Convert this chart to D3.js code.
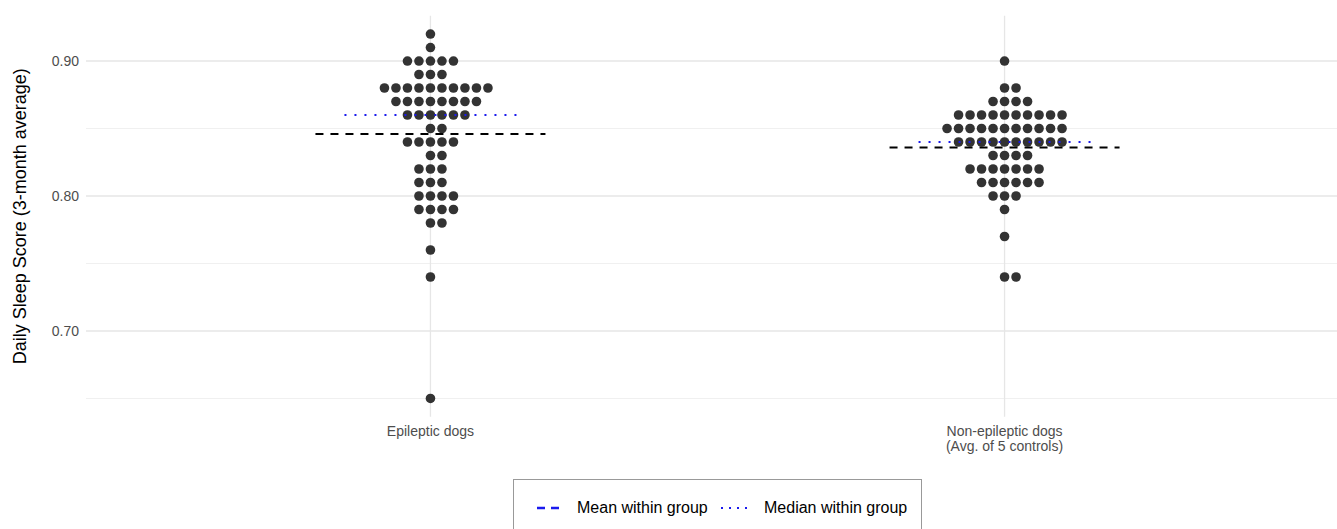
<!DOCTYPE html>
<html lang="en">
<head>
  <meta charset="UTF-8">
  <title>Daily sleep score dot plot</title>
  <script src="https://d3js.org/d3.v7.min.js"></script>
  <style>
    * { margin: 0; padding: 0; box-sizing: border-box; }
    body { background: #fff; font-family: "Liberation Sans", Arial, sans-serif; }
  </style>
</head>
<body>
  <div id="chart"></div>
  <script>
    // groups on the x axis
    const groups = ["Epileptic dogs", "Non-epileptic dogs\n(Avg. of 5 controls)"];

    // binned scores and how many dogs sit in each bin
    const epilepticBins   = [0.92, 0.91, 0.90, 0.89, 0.88, 0.87, 0.86, 0.85, 0.84, 0.83, 0.82, 0.81, 0.80, 0.79, 0.78, 0.76, 0.74, 0.65];
    const epilepticCounts = [1,    1,    5,    3,    10,   8,    6,    2,    5,    2,    3,    3,    4,    4,    2,    1,    1,    1];
    const controlBins     = [0.90, 0.88, 0.87, 0.86, 0.85, 0.84, 0.83, 0.82, 0.81, 0.80, 0.79, 0.77, 0.74];
    const controlCounts   = [1,    2,    4,    10,   11,   10,   4,    7,    6,    3,    1,    1,    2];

    const groupMeans   = [0.846, 0.836];
    const groupMedians = [0.86, 0.84];

    const yTicks = [0.70, 0.80, 0.90];
    const yMinor = [0.65, 0.75, 0.85];

    const W = 1337, H = 529;
    const svg = d3.select("#chart").append("svg")
      .attr("width", W).attr("height", H);

    const x = d3.scaleLinear().domain([0.4, 2.6]).range([86, 1349]);
    const y = d3.scaleLinear().domain([0.6365, 0.9335]).range([416.7, 15.8]);

    // grid
    const grid = svg.append("g");
    grid.selectAll(".minor").data(yMinor).enter().append("line")
      .attr("x1", x(0.4)).attr("x2", x(2.6))
      .attr("y1", d => y(d)).attr("y2", d => y(d))
      .attr("stroke", "#f0f0f0").attr("stroke-width", 1);
    grid.selectAll(".major").data(yTicks).enter().append("line")
      .attr("x1", x(0.4)).attr("x2", x(2.6))
      .attr("y1", d => y(d)).attr("y2", d => y(d))
      .attr("stroke", "#e6e6e6").attr("stroke-width", 1.3);
    grid.selectAll(".vert").data([1, 2]).enter().append("line")
      .attr("x1", d => x(d)).attr("x2", d => x(d))
      .attr("y1", y.range()[1]).attr("y2", y.range()[0])
      .attr("stroke", "#e6e6e6").attr("stroke-width", 1.3);

    // y axis labels
    const yAxis = svg.append("g")
      .attr("transform", `translate(${x(0.4)},0)`)
      .call(d3.axisLeft(y).tickValues(yTicks).tickSize(0).tickPadding(7).tickFormat(d3.format(".2f")));
    yAxis.select(".domain").remove();
    yAxis.selectAll("text")
      .style("font-family", "Liberation Sans, Arial, sans-serif")
      .style("font-size", "14px").attr("fill", "#4d4d4d");

    svg.append("text")
      .attr("transform", `translate(26,${(y.range()[0] + y.range()[1]) / 2}) rotate(-90)`)
      .attr("text-anchor", "middle")
      .style("font-size", "18px").attr("fill", "#000")
      .text("Daily Sleep Score (3-month average)");

    // x labels
    groups.forEach((g, i) => {
      const t = svg.append("text")
        .attr("x", x(i + 1)).attr("y", 436)
        .attr("text-anchor", "middle")
        .style("font-size", "14px").attr("fill", "#4d4d4d");
      g.split("\n").forEach((line, j) => {
        t.append("tspan").attr("x", x(i + 1)).attr("dy", j === 0 ? 0 : 15).text(line);
      });
    });

    // dots
    const step = 11.5;
    const dots = [];
    [[epilepticBins, epilepticCounts], [controlBins, controlCounts]].forEach(([bins, counts], gi) => {
      bins.forEach((b, k) => {
        const n = counts[k];
        const off = Math.floor((n - 1) / 2);
        for (let i = 0; i < n; i++) dots.push({ g: gi + 1, v: b, dx: (i - off) * step });
      });
    });
    svg.selectAll(".dot").data(dots).enter().append("circle")
      .attr("cx", d => x(d.g) + d.dx)
      .attr("cy", d => y(d.v))
      .attr("r", 4.8)
      .attr("fill", "#333333");

    // mean and median lines
    svg.selectAll(".median").data(groupMedians).enter().append("line")
      .attr("x1", (d, i) => x(i + 1) - 86).attr("x2", (d, i) => x(i + 1) + 86)
      .attr("y1", d => y(d)).attr("y2", d => y(d))
      .attr("stroke", "#1a1aee").attr("stroke-width", 2)
      .attr("stroke-dasharray", "2,8");
    svg.selectAll(".mean").data(groupMeans).enter().append("line")
      .attr("x1", (d, i) => x(i + 1) - 115).attr("x2", (d, i) => x(i + 1) + 115)
      .attr("y1", d => y(d)).attr("y2", d => y(d))
      .attr("stroke", "#000").attr("stroke-width", 2)
      .attr("stroke-dasharray", "8,7");

    // legend
    const lg = svg.append("g");
    lg.append("rect").attr("x", 513.5).attr("y", 479.5).attr("width", 408).attr("height", 60)
      .attr("fill", "#fff").attr("stroke", "#999").attr("stroke-width", 1);
    lg.append("line").attr("x1", 537).attr("x2", 565).attr("y1", 508).attr("y2", 508)
      .attr("stroke", "#1a1aee").attr("stroke-width", 2.5).attr("stroke-dasharray", "8,6");
    lg.append("text").attr("x", 577).attr("y", 513).style("font-size", "16px").attr("fill", "#000")
      .text("Mean within group");
    lg.append("line").attr("x1", 721).attr("x2", 749).attr("y1", 508).attr("y2", 508)
      .attr("stroke", "#1a1aee").attr("stroke-width", 2).attr("stroke-dasharray", "2,6");
    lg.append("text").attr("x", 764).attr("y", 513).style("font-size", "16px").attr("fill", "#000")
      .text("Median within group");
  </script>
</body>
</html>
